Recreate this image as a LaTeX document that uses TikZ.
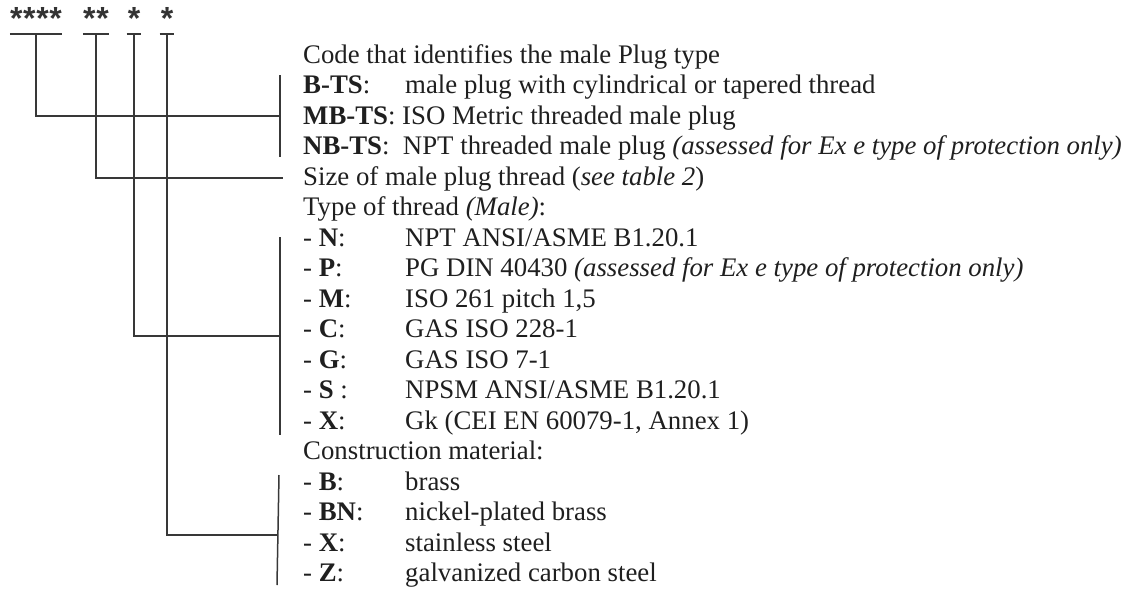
\documentclass[tikz,border=0pt]{standalone}
\usepackage{fontspec}
\setmainfont{Liberation Serif}
\newfontfamily\starfont{Liberation Sans}
\newcommand\stargap{\hspace{0.7pt}}
\begin{document}
\begin{tikzpicture}[x=1pt, y=-1pt,
    every node/.style={inner sep=0pt},
    txt/.style={anchor=base west, font=\fontsize{26.8}{30}\selectfont, text=black!88},
    stars/.style={anchor=base, font=\starfont\bfseries\fontsize{32}{32}\selectfont, text=black!80},
    bar/.style={line width=1.5pt, black!78}]

  \useasboundingbox (0,0) rectangle (1140,589);

  % Code fields: stars (baseline y = 29), underline 5 below it at y = 34
  \node[stars] (f1) at (36,29)  {*\stargap*\stargap*\stargap*};
  \node[stars] (f2) at (96,29)  {*\stargap*};
  \node[stars] (f3) at (134,29) {*};
  \node[stars] (f4) at (167,29) {*};
  \coordinate (u1) at ([yshift=-5pt]f1.base);
  \coordinate (u2) at ([yshift=-5pt]f2.base);
  \coordinate (u3) at ([yshift=-5pt]f3.base);
  \coordinate (u4) at ([yshift=-5pt]f4.base);
  \draw[bar] ([yshift=-5pt]f1.base west) -- ([yshift=-5pt]f1.base east);
  \draw[bar] ([yshift=-5pt]f2.base west) -- ([yshift=-5pt]f2.base east);
  \draw[bar] ([yshift=-5pt,xshift=-1pt]f3.base west) -- ([yshift=-5pt,xshift=1pt]f3.base east);
  \draw[bar] ([yshift=-5pt,xshift=-1pt]f4.base west) -- ([yshift=-5pt,xshift=1pt]f4.base east);

  % Text rows: left column x = 303, second column x = 405,
  % baselines every 30.5 from y = 63
  \node[txt] (code)  at (303,63)    {Code that identifies the male Plug type};
  \node[txt] (bts)   at (303,93.5)  {\textbf{B-TS}:};
  \node[txt] (btsd)  at (405,93.5)  {male plug with cylindrical or tapered thread};
  \node[txt] (mbts)  at (303,124)   {\textbf{MB-TS}: ISO Metric threaded male plug};
  \node[txt] (nbts)  at (303,154.5) {\textbf{NB-TS}:\ \ NPT threaded male plug \textit{(assessed for Ex e type of protection only)}};
  \node[txt] (size)  at (303,185)   {Size of male plug thread (\textit{see table 2})};
  \node[txt] (type)  at (303,215.5) {Type of thread \textit{(Male)}:};
  \node[txt] (tN)    at (303,246)   {- \textbf{N}:};
  \node[txt] (tNd)   at (405,246)   {NPT ANSI/ASME B1.20.1};
  \node[txt] (tP)    at (303,276.5) {- \textbf{P}:};
  \node[txt] (tPd)   at (405,276.5) {PG DIN 40430 \textit{(assessed for Ex e type of protection only)}};
  \node[txt] (tM)    at (303,307)   {- \textbf{M}:};
  \node[txt] (tMd)   at (405,307)   {ISO 261 pitch 1,5};
  \node[txt] (tC)    at (303,337.5) {- \textbf{C}:};
  \node[txt] (tCd)   at (405,337.5) {GAS ISO 228-1};
  \node[txt] (tG)    at (303,368)   {- \textbf{G}:};
  \node[txt] (tGd)   at (405,368)   {GAS ISO 7-1};
  \node[txt] (tS)    at (303,398.5) {- \textbf{S} :};
  \node[txt] (tSd)   at (405,398.5) {NPSM ANSI/ASME B1.20.1};
  \node[txt] (tX)    at (303,429)   {- \textbf{X}:};
  \node[txt] (tXd)   at (405,429)   {Gk (CEI EN 60079-1, Annex 1)};
  \node[txt] (mat)   at (303,459.5) {Construction material:};
  \node[txt] (mB)    at (303,490)   {- \textbf{B}:};
  \node[txt] (mBd)   at (405,490)   {brass};
  \node[txt] (mBN)   at (303,520.5) {- \textbf{BN}:};
  \node[txt] (mBNd)  at (405,520.5) {nickel-plated brass};
  \node[txt] (mX)    at (303,551)   {- \textbf{X}:};
  \node[txt] (mXd)   at (405,551)   {stainless steel};
  \node[txt] (mZ)    at (303,581.5) {- \textbf{Z}:};
  \node[txt] (mZd)   at (405,581.5) {galvanized carbon steel};

  % Brackets at the text side
  \coordinate (b1top) at (280,75);
  \coordinate (b1mid) at (280,116);
  \coordinate (b1bot) at (280,157);
  \coordinate (b2end) at (283,178);
  \coordinate (b3top) at (280,237);
  \coordinate (b3mid) at (280,336);
  \coordinate (b3bot) at (280,435);
  \coordinate (b4top) at (279,475);
  \coordinate (b4mid) at (278,535);
  \coordinate (b4bot) at (277,585);

  \draw[bar] (b1top) -- (b1bot);
  \draw[bar] (b3top) -- (b3bot);
  \draw[bar] (b4top) -- (b4bot);

  % Leaders from the code fields
  \draw[bar] (u1) |- (b1mid);
  \draw[bar] (u2) |- (b2end);
  \draw[bar] (u3) |- (b3mid);
  \draw[bar] (u4) |- (b4mid);

\end{tikzpicture}
\end{document}
